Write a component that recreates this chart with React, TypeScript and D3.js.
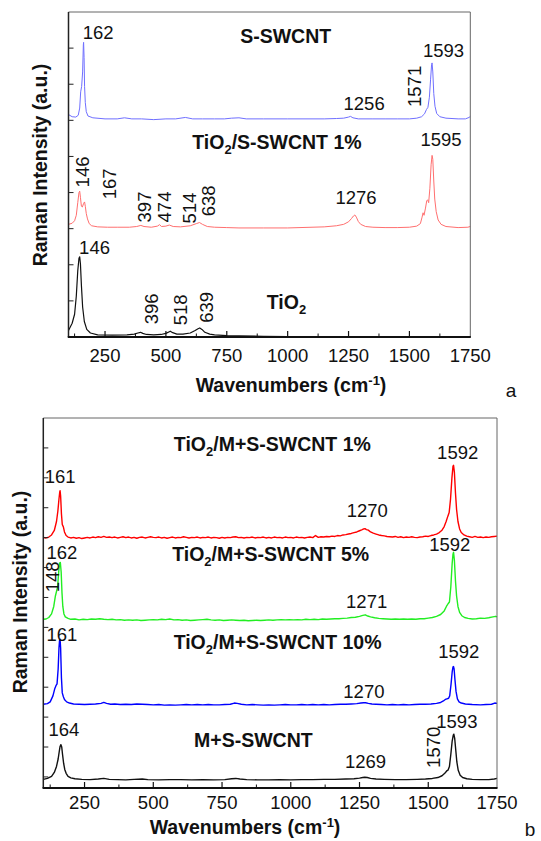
import React from 'react';
import * as d3 from 'd3';

// ---------- axis data ----------
const xDomain: [number, number] = [100, 1750];
const xTicks = [250, 500, 750, 1000, 1250, 1500, 1750];
const xMinorTicks = [125, 375, 625, 875, 1125, 1375, 1625];
const topYTicks = [1, 2, 3, 4, 5, 6, 7, 8];
const bottomYTicks = [0, 1, 2, 3, 4, 5, 6, 7, 8, 9, 10, 11];
const topYDomain: [number, number] = [0, 9];
const bottomYDomain: [number, number] = [-0.37, 12];

// ---------- panel a spectra: [wavenumber, intensity above own baseline] ----------
const topNames = ['S-SWCNT', 'TiO_2/S-SWCNT 1%', 'TiO_2'];
const topOffsets = [6.04, 3.02, 0.03];

const sSwcnt: [number, number][] = [
  [100, 0.12], [115, 0.06], [130, 0.05], [140, 0.1], [146, 0.3], [150, 0.75], [154, 0.9], [158, 1.3],
  [161, 2.05], [162, 2.12], [164, 1.7], [166, 0.9], [169, 0.45], [173, 0.2], [180, 0.08], [200, 0.03],
  [250, 0.0], [300, 0.0], [330, 0.03], [360, 0.0], [400, 0.0], [450, -0.02], [500, 0.0], [540, 0.0],
  [580, 0.04], [610, 0.0], [650, 0.0], [700, 0.0], [740, 0.0], [770, 0.02], [800, 0.03], [830, 0.0],
  [900, 0.0], [1000, 0.0], [1100, 0.0], [1150, 0.0], [1200, 0.01], [1230, 0.02], [1250, 0.05],
  [1258, 0.07], [1268, 0.03], [1290, 0.0], [1350, 0.0], [1400, 0.0], [1450, 0.0], [1500, 0.0],
  [1530, 0.02], [1550, 0.06], [1562, 0.14], [1570, 0.26], [1576, 0.32], [1582, 0.6], [1587, 1.1],
  [1591, 1.5], [1593, 1.55], [1596, 1.3], [1600, 0.7], [1605, 0.35], [1612, 0.15], [1625, 0.06],
  [1650, 0.02], [1700, 0.0], [1730, 0.0], [1745, 0.04], [1750, 0.07],
];

const tio2SSwcnt1: [number, number][] = [
  [100, 0.1], [115, 0.13], [125, 0.2], [132, 0.35], [138, 0.7], [143, 0.98], [146, 1.02], [149, 0.85],
  [153, 0.6], [157, 0.58], [162, 0.68], [166, 0.72], [169, 0.6], [173, 0.4], [178, 0.25], [185, 0.12],
  [195, 0.06], [220, 0.03], [260, 0.02], [300, 0.02], [350, 0.02], [380, 0.04], [397, 0.07], [410, 0.04],
  [440, 0.02], [465, 0.05], [474, 0.09], [482, 0.04], [500, 0.05], [514, 0.08], [530, 0.04], [560, 0.03],
  [600, 0.06], [625, 0.12], [638, 0.15], [650, 0.1], [670, 0.04], [700, 0.02], [750, 0.01], [800, 0.0],
  [900, 0.0], [1000, 0.0], [1100, 0.02], [1150, 0.03], [1200, 0.06], [1230, 0.1], [1250, 0.17],
  [1262, 0.26], [1270, 0.33], [1276, 0.36], [1282, 0.3], [1290, 0.18], [1300, 0.1], [1320, 0.04],
  [1350, 0.02], [1400, 0.01], [1450, 0.01], [1500, 0.02], [1530, 0.05], [1545, 0.12], [1552, 0.3],
  [1556, 0.42], [1560, 0.35], [1566, 0.55], [1571, 0.75], [1575, 0.78], [1579, 0.7], [1584, 1.1],
  [1589, 1.75], [1593, 2.01], [1596, 1.9], [1600, 1.3], [1604, 0.8], [1610, 0.45], [1618, 0.22],
  [1630, 0.1], [1650, 0.04], [1700, 0.01], [1740, 0.02], [1750, 0.04],
];

const tio2: [number, number][] = [
  [100, 0.15], [115, 0.35], [125, 0.6], [132, 1.1], [138, 1.8], [143, 2.15], [146, 2.19], [149, 2.0],
  [153, 1.4], [158, 0.8], [165, 0.4], [175, 0.18], [190, 0.08], [220, 0.03], [280, 0.02], [340, 0.03],
  [370, 0.05], [385, 0.08], [396, 0.1], [405, 0.07], [420, 0.04], [450, 0.03], [480, 0.04], [500, 0.07],
  [512, 0.11], [518, 0.13], [528, 0.09], [545, 0.05], [570, 0.05], [600, 0.08], [620, 0.15], [632, 0.2],
  [639, 0.22], [648, 0.18], [660, 0.1], [680, 0.05], [700, 0.03], [750, 0.01], [800, 0.0], [900, -0.01],
  [1000, -0.02], [1200, -0.02], [1400, -0.03], [1600, -0.03], [1750, -0.03],
];

// ---------- panel b spectra ----------
const bottomNames = ['TiO_2/M+S-SWCNT 1%', 'TiO_2/M+S-SWCNT 5%', 'TiO_2/M+S-SWCNT 10%', 'M+S-SWCNT'];
const bottomOffsets = [7.99, 5.25, 2.41, -0.1];

const ms1: [number, number][] = [
  [100, 0.02], [110, 0.0], [120, 0.03], [130, 0.1], [140, 0.25], [148, 0.55], [153, 0.9], [157, 1.3],
  [160, 1.55], [161, 1.58], [163, 1.4], [166, 0.8], [169, 0.45], [173, 0.37], [177, 0.2], [183, 0.08],
  [190, 0.03], [200, 0.0], [210, 0.02], [220, -0.01], [230, 0.01], [240, -0.02], [250, 0.0], [260, 0.02],
  [270, 0.0], [280, 0.03], [290, 0.01], [300, 0.04], [310, 0.02], [320, 0.05], [330, 0.02], [340, 0.03],
  [350, 0.01], [360, 0.03], [370, 0.0], [380, 0.02], [390, 0.04], [400, 0.01], [410, 0.03], [420, 0.0],
  [430, 0.02], [440, -0.01], [450, 0.02], [460, 0.03], [470, 0.0], [480, 0.02], [490, 0.04], [500, 0.02],
  [510, 0.01], [520, 0.03], [530, 0.0], [540, 0.02], [550, -0.01], [560, 0.01], [570, 0.03], [580, 0.0],
  [590, 0.02], [600, 0.01], [610, 0.04], [620, 0.02], [630, 0.0], [640, 0.02], [650, 0.01], [660, 0.03],
  [670, 0.0], [680, 0.02], [690, 0.01], [700, 0.03], [710, 0.0], [720, 0.02], [730, 0.01], [740, -0.01],
  [750, 0.02], [760, 0.0], [770, 0.02], [780, 0.01], [790, 0.03], [800, 0.04], [810, 0.01], [820, 0.02],
  [830, 0.0], [840, 0.02], [850, 0.01], [860, 0.03], [870, 0.0], [880, 0.02], [890, 0.01], [900, 0.03],
  [910, 0.0], [920, 0.02], [930, 0.0], [940, 0.03], [950, 0.01], [960, 0.02], [970, 0.0], [980, 0.03],
  [990, 0.01], [1000, 0.02], [1010, 0.0], [1020, 0.03], [1030, 0.01], [1040, 0.02], [1050, 0.0],
  [1060, 0.02], [1070, 0.03], [1080, 0.01], [1090, 0.08], [1100, 0.02], [1110, 0.04], [1120, 0.03],
  [1130, 0.05], [1140, 0.04], [1150, 0.06], [1160, 0.05], [1170, 0.08], [1180, 0.07], [1190, 0.1],
  [1200, 0.11], [1210, 0.13], [1220, 0.15], [1230, 0.18], [1240, 0.2], [1250, 0.24], [1258, 0.27],
  [1265, 0.3], [1270, 0.31], [1275, 0.28], [1282, 0.26], [1290, 0.2], [1300, 0.16], [1310, 0.13],
  [1320, 0.1], [1330, 0.08], [1340, 0.07], [1350, 0.05], [1360, 0.04], [1370, 0.03], [1380, 0.05],
  [1390, 0.02], [1400, 0.04], [1410, 0.01], [1420, 0.03], [1430, 0.02], [1440, 0.04], [1450, 0.02],
  [1460, 0.01], [1470, 0.03], [1480, 0.04], [1490, 0.06], [1500, 0.05], [1510, 0.08], [1520, 0.1],
  [1530, 0.13], [1540, 0.18], [1550, 0.26], [1558, 0.38], [1565, 0.55], [1571, 0.72], [1576, 0.85],
  [1581, 1.3], [1586, 2.0], [1590, 2.4], [1592, 2.43], [1595, 2.2], [1599, 1.5], [1603, 0.95],
  [1608, 0.55], [1614, 0.3], [1620, 0.18], [1630, 0.1], [1640, 0.06], [1650, 0.04], [1660, 0.02],
  [1670, 0.05], [1680, 0.02], [1690, 0.03], [1700, 0.01], [1710, 0.03], [1720, 0.02], [1730, 0.04],
  [1740, 0.05], [1750, 0.06],
];

const ms5: [number, number][] = [
  [100, 0.02], [110, 0.03], [120, 0.08], [130, 0.2], [138, 0.45], [144, 0.8], [148, 0.95], [152, 1.1],
  [156, 1.6], [159, 1.9], [162, 1.92], [165, 1.6], [168, 0.9], [171, 0.45], [175, 0.2], [180, 0.1],
  [190, 0.05], [200, 0.02], [215, 0.03], [230, 0.0], [245, 0.02], [260, 0.01], [275, 0.03], [290, 0.02],
  [305, 0.04], [320, 0.02], [335, 0.01], [350, 0.02], [365, 0.0], [380, 0.01], [395, -0.01], [410, 0.0],
  [425, -0.01], [440, 0.0], [455, -0.02], [470, -0.01], [485, 0.0], [500, 0.01], [515, 0.0], [530, 0.02],
  [545, 0.01], [560, 0.03], [575, 0.0], [590, 0.01], [605, -0.01], [620, 0.0], [635, -0.02], [650, -0.01],
  [665, 0.0], [680, 0.01], [695, 0.02], [710, 0.0], [725, -0.01], [740, 0.0], [755, -0.02], [770, -0.01],
  [785, 0.0], [800, -0.01], [815, -0.02], [830, -0.01], [845, -0.03], [860, -0.02], [875, -0.01],
  [890, -0.02], [905, -0.01], [920, 0.0], [935, -0.01], [950, 0.0], [965, 0.01], [980, 0.0], [995, 0.01],
  [1010, 0.0], [1025, 0.01], [1040, 0.0], [1055, 0.02], [1070, 0.01], [1085, 0.02], [1100, 0.01],
  [1115, 0.03], [1130, 0.02], [1145, 0.03], [1160, 0.04], [1175, 0.04], [1190, 0.05], [1205, 0.06],
  [1220, 0.08], [1235, 0.09], [1250, 0.12], [1262, 0.15], [1271, 0.17], [1280, 0.13], [1290, 0.1],
  [1305, 0.07], [1320, 0.05], [1335, 0.04], [1350, 0.03], [1365, 0.02], [1380, 0.03], [1395, 0.02],
  [1410, 0.03], [1425, 0.02], [1440, 0.03], [1455, 0.02], [1470, 0.04], [1485, 0.04], [1500, 0.06],
  [1515, 0.08], [1530, 0.12], [1545, 0.18], [1558, 0.3], [1566, 0.45], [1572, 0.54], [1577, 0.6],
  [1582, 1.1], [1587, 1.9], [1590, 2.2], [1592, 2.26], [1595, 2.0], [1599, 1.3], [1603, 0.8],
  [1608, 0.45], [1614, 0.25], [1622, 0.14], [1632, 0.08], [1645, 0.05], [1660, 0.03], [1675, 0.04],
  [1690, 0.06], [1705, 0.05], [1720, 0.07], [1735, 0.1], [1745, 0.12], [1750, 0.1],
];

const ms10: [number, number][] = [
  [100, 0.02], [115, 0.04], [125, 0.1], [135, 0.3], [142, 0.55], [146, 0.64], [150, 0.7], [154, 1.2],
  [157, 1.9], [159, 2.15], [161, 2.19], [163, 1.9], [166, 0.9], [169, 0.4], [173, 0.27], [177, 0.18],
  [185, 0.1], [195, 0.06], [210, 0.03], [230, 0.02], [250, 0.01], [270, 0.02], [290, 0.03], [310, 0.05],
  [320, 0.08], [330, 0.05], [345, 0.02], [360, 0.03], [380, 0.01], [400, 0.02], [420, 0.01], [440, 0.03],
  [460, 0.02], [480, 0.01], [500, 0.0], [520, 0.01], [540, -0.01], [560, 0.0], [580, -0.01], [600, 0.0],
  [620, 0.01], [640, 0.0], [660, 0.01], [680, 0.0], [700, 0.01], [720, 0.0], [740, 0.0], [760, 0.01],
  [780, 0.02], [795, 0.06], [805, 0.05], [820, 0.02], [840, 0.0], [860, 0.01], [880, 0.0], [900, -0.01],
  [920, 0.0], [940, -0.01], [960, 0.0], [980, 0.01], [1000, 0.0], [1020, 0.0], [1040, 0.01], [1060, 0.0],
  [1080, 0.01], [1100, 0.0], [1120, 0.01], [1140, 0.0], [1160, 0.01], [1180, 0.02], [1200, 0.02],
  [1220, 0.03], [1240, 0.04], [1255, 0.06], [1265, 0.07], [1272, 0.07], [1282, 0.05], [1295, 0.03],
  [1310, 0.02], [1330, 0.01], [1350, 0.0], [1370, 0.01], [1390, 0.0], [1410, 0.01], [1430, 0.0],
  [1450, 0.01], [1470, 0.02], [1490, 0.02], [1510, 0.03], [1530, 0.05], [1545, 0.08], [1555, 0.13],
  [1562, 0.18], [1568, 0.2], [1574, 0.22], [1578, 0.3], [1583, 0.7], [1587, 1.1], [1590, 1.27],
  [1592, 1.28], [1594, 1.2], [1597, 0.85], [1601, 0.45], [1606, 0.2], [1612, 0.1], [1620, 0.06],
  [1635, 0.03], [1660, 0.01], [1690, 0.0], [1710, 0.01], [1730, 0.02], [1742, 0.06], [1750, 0.05],
];

const msSwcnt: [number, number][] = [
  [100, 0.02], [115, 0.05], [130, 0.12], [140, 0.25], [148, 0.45], [154, 0.7], [158, 0.95], [161, 1.12],
  [164, 1.18], [167, 1.1], [170, 0.85], [174, 0.55], [178, 0.35], [183, 0.22], [190, 0.12], [200, 0.07],
  [215, 0.04], [240, 0.02], [270, 0.01], [300, 0.03], [320, 0.05], [340, 0.02], [370, 0.01], [400, 0.0],
  [430, 0.02], [460, 0.03], [480, 0.01], [520, 0.0], [560, 0.01], [600, 0.01], [640, 0.0], [680, 0.01],
  [720, 0.0], [760, 0.01], [785, 0.04], [800, 0.05], [815, 0.03], [840, 0.01], [880, 0.0], [920, 0.0],
  [960, 0.01], [1000, 0.0], [1040, 0.01], [1080, 0.01], [1120, 0.02], [1160, 0.02], [1200, 0.03],
  [1230, 0.04], [1250, 0.06], [1262, 0.08], [1269, 0.09], [1278, 0.08], [1290, 0.05], [1310, 0.03],
  [1340, 0.02], [1380, 0.01], [1420, 0.01], [1460, 0.02], [1490, 0.03], [1515, 0.05], [1535, 0.08],
  [1550, 0.14], [1560, 0.22], [1567, 0.3], [1572, 0.33], [1577, 0.45], [1582, 0.85], [1587, 1.3],
  [1591, 1.5], [1593, 1.53], [1596, 1.4], [1600, 1.0], [1604, 0.6], [1609, 0.32], [1616, 0.16],
  [1625, 0.08], [1640, 0.04], [1660, 0.02], [1690, 0.01], [1720, 0.01], [1740, 0.03], [1750, 0.05],
];

// ---------- annotations: [text, wavenumber, intensity, rotated(1) / bold title(2) / plain(0)] ----------
type Ann = [string, number, number, number];
const topAnnotations: Ann[] = [
  ['S-SWCNT', 992, 8.33, 2], ['162', 222, 8.43, 0], ['1593', 1640, 7.92, 0], ['1256', 1314, 6.47, 0],
  ['1571', 1519, 6.94, 1],
  ['TiO_2/S-SWCNT 1%', 956, 5.39, 2], ['146', 159, 4.57, 1], ['167', 269, 4.24, 1], ['397', 411, 3.6, 1],
  ['474', 496, 3.6, 1], ['514', 595, 3.57, 1], ['638', 676, 3.77, 1], ['1595', 1630, 5.48, 0],
  ['1276', 1281, 3.86, 0],
  ['TiO_2', 995, 0.97, 2], ['146', 207, 2.49, 0], ['396', 442, 0.78, 1], ['518', 558, 0.75, 1],
  ['639', 666, 0.82, 1],
];
const bottomAnnotations: Ann[] = [
  ['TiO_2/M+S-SWCNT 1%', 933, 11.11, 2], ['161', 161, 10.03, 0], ['1592', 1607, 10.84, 0],
  ['1270', 1278, 8.9, 0],
  ['TiO_2/M+S-SWCNT 5%', 927, 7.46, 2], ['162', 168, 7.51, 0], ['148', 132, 6.69, 1],
  ['1592', 1578, 7.76, 0], ['1271', 1276, 5.85, 0],
  ['TiO_2/M+S-SWCNT 10%', 952, 4.52, 2], ['161', 168, 4.75, 0], ['1592', 1611, 4.18, 0],
  ['1270', 1266, 2.84, 0],
  ['M+S-SWCNT', 864, 1.22, 2], ['164', 175, 1.57, 0], ['1593', 1604, 1.86, 0], ['1570', 1520, 0.99, 1],
  ['1269', 1272, 0.51, 0],
];

const FONT = "'Liberation Sans', Arial, Helvetica, sans-serif";

function Label({ ann, x, y }: { ann: Ann; x: d3.ScaleLinear<number, number>; y: d3.ScaleLinear<number, number> }) {
  const [text, w, v, kind] = ann;
  const px = x(w);
  const py = y(v);
  if (kind === 1) {
    return (
      <text transform={`translate(${px},${py}) rotate(-90)`} textAnchor="middle" dy="0.35em" fontSize={18.5} fontFamily={FONT} fill="#111">
        {text}
      </text>
    );
  }
  if (kind === 2) {
    const parts = text.split('_2');
    return (
      <text x={px} y={py} dy="0.35em" textAnchor="middle" fontSize={19.5} fontWeight="bold" fontFamily={FONT} fill="#111">
        {parts[0]}
        {parts.length > 1 && (
          <>
            <tspan dy={5} fontSize={13}>2</tspan>
            <tspan dy={-5}>{parts[1]}</tspan>
          </>
        )}
      </text>
    );
  }
  return (
    <text x={px} y={py} dy="0.35em" textAnchor="middle" fontSize={18.5} fontFamily={FONT} fill="#111">
      {text}
    </text>
  );
}

type SeriesDef = { data: [number, number][]; offset: number; color: string; width: number };

function Panel({
  range, yDomain, yTicks, series, annotations, tickLabelGap, titleX, titleY, yTitleX, yTitleY, letter,
}: {
  range: { x0: number; x1: number; y0: number; y1: number };
  yDomain: [number, number];
  yTicks: number[];
  series: SeriesDef[];
  annotations: Ann[];
  tickLabelGap: number;
  titleX: number; titleY: number; yTitleX: number; yTitleY: number;
  letter: { t: string; x: number; y: number };
}) {
  const x = d3.scaleLinear().domain(xDomain).range([range.x0, range.x1]);
  const y = d3.scaleLinear().domain(yDomain).range([range.y0, range.y1]);
  return (
    <g>
      {series.map((s, i) => {
        const line = d3.line<[number, number]>()
          .x((d) => x(d[0]))
          .y((d) => y(d[1] + s.offset));
        return <path key={i} d={line(s.data) || ''} fill="none" stroke={s.color} strokeWidth={s.width} strokeLinejoin="round" />;
      })}
      {/* frame */}
      <line x1={range.x0} x2={range.x1} y1={range.y1} y2={range.y1} stroke="#666" strokeWidth={1} />
      <line x1={range.x1} x2={range.x1} y1={range.y1} y2={range.y0} stroke="#666" strokeWidth={1} />
      <line x1={range.x0} x2={range.x0} y1={range.y1} y2={range.y0} stroke="#222" strokeWidth={1.5} />
      <line x1={range.x0 - 0.75} x2={range.x1 + 0.5} y1={range.y0} y2={range.y0} stroke="#111" strokeWidth={2} />
      {/* y ticks (inward) */}
      {yTicks.map((t) => (
        <line key={'yt' + t} x1={range.x0} x2={range.x0 + 5} y1={y(t)} y2={y(t)} stroke="#222" strokeWidth={1} />
      ))}
      {/* x ticks */}
      {xTicks.filter((t) => t < xDomain[1]).map((t) => (
        <line key={'xt' + t} x1={x(t)} x2={x(t)} y1={range.y0} y2={range.y0 - 6} stroke="#111" strokeWidth={1.2} />
      ))}
      {xMinorTicks.map((t) => (
        <line key={'xm' + t} x1={x(t)} x2={x(t)} y1={range.y0} y2={range.y0 - 3.5} stroke="#111" strokeWidth={1} />
      ))}
      {xTicks.map((t) => (
        <text key={'xl' + t} x={x(t)} y={range.y0 + tickLabelGap} dy="0.35em" textAnchor="middle" fontSize={18.5} fontFamily={FONT} fill="#111">
          {t}
        </text>
      ))}
      <text x={titleX} y={titleY} dy="0.35em" textAnchor="middle" fontSize={19.5} fontWeight="bold" fontFamily={FONT} fill="#111">
        Wavenumbers (cm<tspan dy={-7} fontSize={13}>-1</tspan><tspan dy={7}>)</tspan>
      </text>
      <text transform={`translate(${yTitleX},${yTitleY}) rotate(-90)`} dy="0.35em" textAnchor="middle" fontSize={19.5} fontWeight="bold" fontFamily={FONT} fill="#111">
        Raman Intensity (a.u.)
      </text>
      {annotations.map((a, i) => (
        <Label key={i} ann={a} x={x} y={y} />
      ))}
      <text x={letter.x} y={letter.y} textAnchor="middle" fontSize={19} fontFamily={FONT} fill="#111">{letter.t}</text>
    </g>
  );
}

export default function App() {
  const topSeries: SeriesDef[] = [
    { data: sSwcnt, offset: topOffsets[0], color: '#6f6fff', width: 1 },
    { data: tio2SSwcnt1, offset: topOffsets[1], color: '#ff6f6f', width: 1 },
    { data: tio2, offset: topOffsets[2], color: '#111', width: 1.2 },
  ];
  const bottomSeries: SeriesDef[] = [
    { data: ms1, offset: bottomOffsets[0], color: '#ff0000', width: 1.4 },
    { data: ms5, offset: bottomOffsets[1], color: '#22ee22', width: 1.4 },
    { data: ms10, offset: bottomOffsets[2], color: '#0000ff', width: 1.4 },
    { data: msSwcnt, offset: bottomOffsets[3], color: '#111', width: 1.4 },
  ];
  void topNames; void bottomNames;
  return (
    <svg width={541} height={841} style={{ position: 'absolute', left: 0, top: 0, background: '#fff' }}>
      <rect width={541} height={841} fill="#fff" />
      <Panel
        range={{ x0: 68.5, x1: 470.3, y0: 337, y1: 12 }}
        yDomain={topYDomain}
        yTicks={topYTicks}
        series={topSeries}
        annotations={topAnnotations}
        tickLabelGap={19}
        titleX={291} titleY={385} yTitleX={40} yTitleY={165}
        letter={{ t: 'a', x: 511, y: 397 }}
      />
      <Panel
        range={{ x0: 43.3, x1: 497, y0: 788, y1: 418 }}
        yDomain={bottomYDomain}
        yTicks={bottomYTicks}
        series={bottomSeries}
        annotations={bottomAnnotations}
        tickLabelGap={15}
        titleX={245} titleY={827} yTitleX={20} yTitleY={592}
        letter={{ t: 'b', x: 530, y: 836 }}
      />
    </svg>
  );
}
